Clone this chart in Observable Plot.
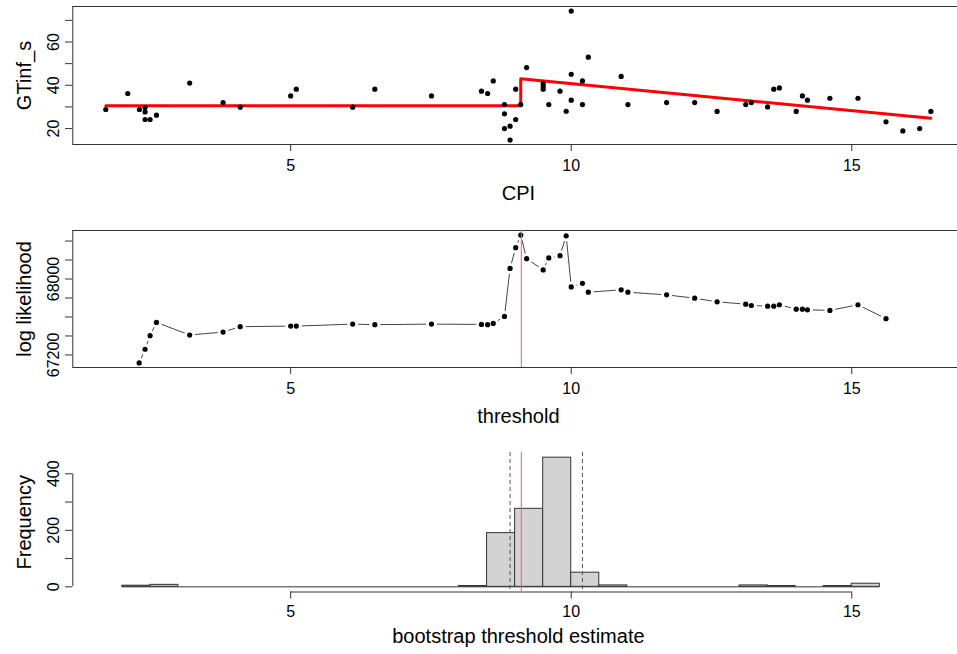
<!DOCTYPE html>
<html>
<head>
<meta charset="utf-8">
<script src="https://cdn.jsdelivr.net/npm/d3@7"></script>
<script src="https://cdn.jsdelivr.net/npm/@observablehq/plot@0.6"></script>
<style>
  html, body { margin: 0; padding: 0; background: white; overflow: hidden; }
  #chart svg { display: block; }
</style>
</head>
<body>
<div id="chart"></div>
<script>
// ---- Panel 1: scatter of GTinf_s vs CPI with threshold fit ----
const cpi = [1.705, 2.097, 2.305, 2.405, 2.405, 2.405, 2.494, 2.608, 3.20, 3.795, 4.10, 5.00, 5.10, 6.105, 6.50, 7.51,
  8.40, 8.51, 8.61, 8.81, 8.81, 8.81, 8.91, 8.91, 9.01, 9.01, 9.10, 9.205, 9.50, 9.50, 9.50, 9.60, 9.80, 9.91,
  10.00, 10.00, 10.00, 10.20, 10.20, 10.305, 10.89, 11.01, 11.70, 12.20, 12.60, 13.11, 13.21, 13.50, 13.61, 13.71,
  14.01, 14.12, 14.21, 14.61, 15.11, 15.61, 15.91, 16.21, 16.41];
const gtinf = [28.8, 36.2, 28.8, 29.7, 27.7, 24.2, 24.2, 26.2, 41.0, 32.0, 29.9, 35.1, 38.2, 29.9, 38.2, 35.1,
  37.3, 36.2, 42.0, 31.1, 26.8, 20.0, 21.1, 14.7, 24.2, 38.2, 31.1, 48.2, 40.8, 39.5, 38.2, 31.1, 37.3, 28.0,
  74.3, 45.1, 33.1, 42.0, 31.1, 53.0, 44.1, 31.1, 32.0, 32.0, 27.9, 31.1, 32.0, 30.0, 38.2, 38.8,
  27.9, 35.1, 33.1, 34.0, 34.0, 23.1, 18.9, 20.0, 27.9];
const fitX = [1.705, 9.10, 9.10, 16.41];
const fitY = [30.6, 30.6, 43.0, 24.8];

// ---- Panel 2: log likelihood by candidate threshold ----
const thr = [2.30, 2.405, 2.494, 2.608, 3.20, 3.795, 4.10, 5.00, 5.10, 6.105, 6.50, 7.51, 8.40, 8.51, 8.61, 8.81,
  8.91, 9.01, 9.10, 9.205, 9.50, 9.60, 9.80, 9.91, 10.00, 10.20, 10.305, 10.89, 11.01, 11.70, 12.20, 12.60,
  13.11, 13.21, 13.50, 13.61, 13.71, 14.01, 14.12, 14.21, 14.61, 15.11, 15.61];
const loglik = [67116, 67260, 67403, 67543, 67410, 67441, 67498, 67504, 67504, 67525, 67519, 67525, 67522, 67519, 67532, 67606,
  68112, 68330, 68463, 68214, 68096, 68222, 68246, 68455, 67917, 67955, 67861, 67886, 67861, 67833, 67798, 67760,
  67735, 67721, 67714, 67714, 67729, 67682, 67682, 67676, 67669, 67729, 67582];
const thrHat = 9.11;

// ---- Panel 3: histogram of bootstrap threshold estimates ----
const binStart = [2.0, 2.5, 8.0, 8.5, 9.0, 9.5, 10.0, 10.5, 13.0, 13.5, 14.5, 15.0];
const binCount = [4, 7, 3, 190, 276, 457, 50, 5, 5, 3, 3, 11];
const binWidth = 0.5;
const histRange = [2.0, 15.5];
const ciBounds = [8.91, 10.20];

// ---- tick labels ----
const xTicks = [5, 10, 15];
const yTicks1 = [20, 30, 40, 50, 60, 70];
const yLabels1 = [20, 40, 60];
const yTicks2 = [67200, 67400, 67600, 67800, 68000, 68200, 68400];
const yLabels2 = [67200, 68000];
const yTicks3 = [0, 100, 200, 300, 400];
const yLabels3 = [0, 200, 400];

// ---- tables built from the arrays ----
const pts = cpi.map((x, i) => ({x, y: gtinf[i]}));
const fit = fitX.map((x, i) => ({x, y: fitY[i]}));
const ll = thr.map((x, i) => ({x, y: loglik[i]}));
const bins = binStart.map((x, i) => ({x1: x, x2: x + binWidth, y: binCount[i]}));

const XD = [1.117, 17.0];
const X = {domain: XD, range: [72.3, 963.5], label: null};
const FONT = "'Liberation Sans', Arial, Helvetica, sans-serif";
const AX = "#333";
const style = {fontFamily: FONT, fontSize: "16px", color: "black", background: "white", overflow: "hidden"};

function yLabelMarks(labels, title) {
  return [
    Plot.text(labels, {x: XD[0], y: d => d, text: d => String(d), rotate: -90, dx: -14.3,
      lineAnchor: "bottom", textAnchor: "middle", fontSize: 16}),
    Plot.text([title], {text: d => d, frameAnchor: "left", dx: -42, rotate: -90,
      lineAnchor: "bottom", textAnchor: "middle", fontSize: 20})
  ];
}

function xAxis(pad) {
  return Plot.axisX(xTicks, {tickSize: 7, tickPadding: pad, label: null, stroke: AX,
    tickFormat: d => String(d), fontSize: 16, fill: "black"});
}

const p1 = Plot.plot({
  width: 957, height: 223, marginLeft: 72, marginRight: 0, marginTop: 6, marginBottom: 79,
  style, x: X, y: {domain: [12.64, 76.4], label: null},
  marks: [
    Plot.ruleY([12.64, 76.4], {x1: XD[0], x2: XD[1], stroke: AX}),
    Plot.ruleX([XD[0]], {stroke: AX}),
    xAxis(8),
    Plot.axisY(yTicks1, {tickSize: 7, label: null, stroke: AX, tickFormat: () => ""}),
    ...yLabelMarks(yLabels1, "GTinf_s"),
    Plot.text(["CPI"], {text: d => d, x: (XD[0] + XD[1]) / 2, frameAnchor: "bottom", dy: 55, lineAnchor: "bottom", fontSize: 20}),
    Plot.line(fit, {x: "x", y: "y", stroke: "#ff0000", strokeWidth: 3}),
    Plot.dot(pts, {x: "x", y: "y", r: 2.6, fill: "black", stroke: "none"})
  ]
});

const p2 = Plot.plot({
  width: 957, height: 224, marginLeft: 72, marginRight: 0, marginTop: 7, marginBottom: 80,
  style, x: X, y: {domain: [67068, 68511], label: null},
  marks: [
    Plot.line(ll, {x: "x", y: "y", stroke: "#444", strokeWidth: 1}),
    Plot.dot(ll, {x: "x", y: "y", r: 5.5, fill: "white", stroke: "none"}),
    Plot.ruleY([67068, 68511], {x1: XD[0], x2: XD[1], stroke: AX}),
    Plot.ruleX([XD[0]], {stroke: AX}),
    xAxis(8),
    Plot.axisY(yTicks2, {tickSize: 7, label: null, stroke: AX, tickFormat: () => ""}),
    ...yLabelMarks(yLabels2, "log likelihood"),
    Plot.text(["threshold"], {text: d => d, x: (XD[0] + XD[1]) / 2, frameAnchor: "bottom", dy: 55, lineAnchor: "bottom", fontSize: 20}),
    Plot.dot(ll, {x: "x", y: "y", r: 2.6, fill: "black", stroke: "none"}),
    Plot.ruleX([thrHat], {stroke: "#f25c74", strokeWidth: 1})
  ]
});

const Y3 = [-18.3, 475.3];
const p3 = Plot.plot({
  width: 957, height: 207, marginLeft: 72, marginRight: 0, marginTop: 5, marginBottom: 62.5,
  style, x: X, y: {domain: Y3, label: null},
  marks: [
    Plot.ruleY([0], {x1: histRange[0], x2: histRange[1], stroke: AX}),
    Plot.rect(bins, {x1: "x1", x2: "x2", y1: 0, y2: "y", fill: "#d3d3d3", stroke: AX, strokeWidth: 1}),
    Plot.ruleY([Y3[0]], {x1: xTicks[0], x2: xTicks[xTicks.length - 1], stroke: AX}),
    Plot.ruleX([XD[0]], {y1: yTicks3[0], y2: yTicks3[yTicks3.length - 1], stroke: AX}),
    xAxis(7),
    Plot.axisY(yTicks3, {tickSize: 7, label: null, stroke: AX, tickFormat: () => ""}),
    ...yLabelMarks(yLabels3, "Frequency"),
    Plot.text(["bootstrap threshold estimate"], {text: d => d, x: (XD[0] + XD[1]) / 2, frameAnchor: "bottom", dy: 51, lineAnchor: "bottom", fontSize: 20}),
    Plot.ruleX(ciBounds, {stroke: "#555", strokeDasharray: "4,3", strokeWidth: 1}),
    Plot.ruleX([thrHat], {stroke: "#f25c74", strokeWidth: 1})
  ]
});

const el = document.getElementById("chart");
el.append(p1, p2, p3);
</script>
</body>
</html>
